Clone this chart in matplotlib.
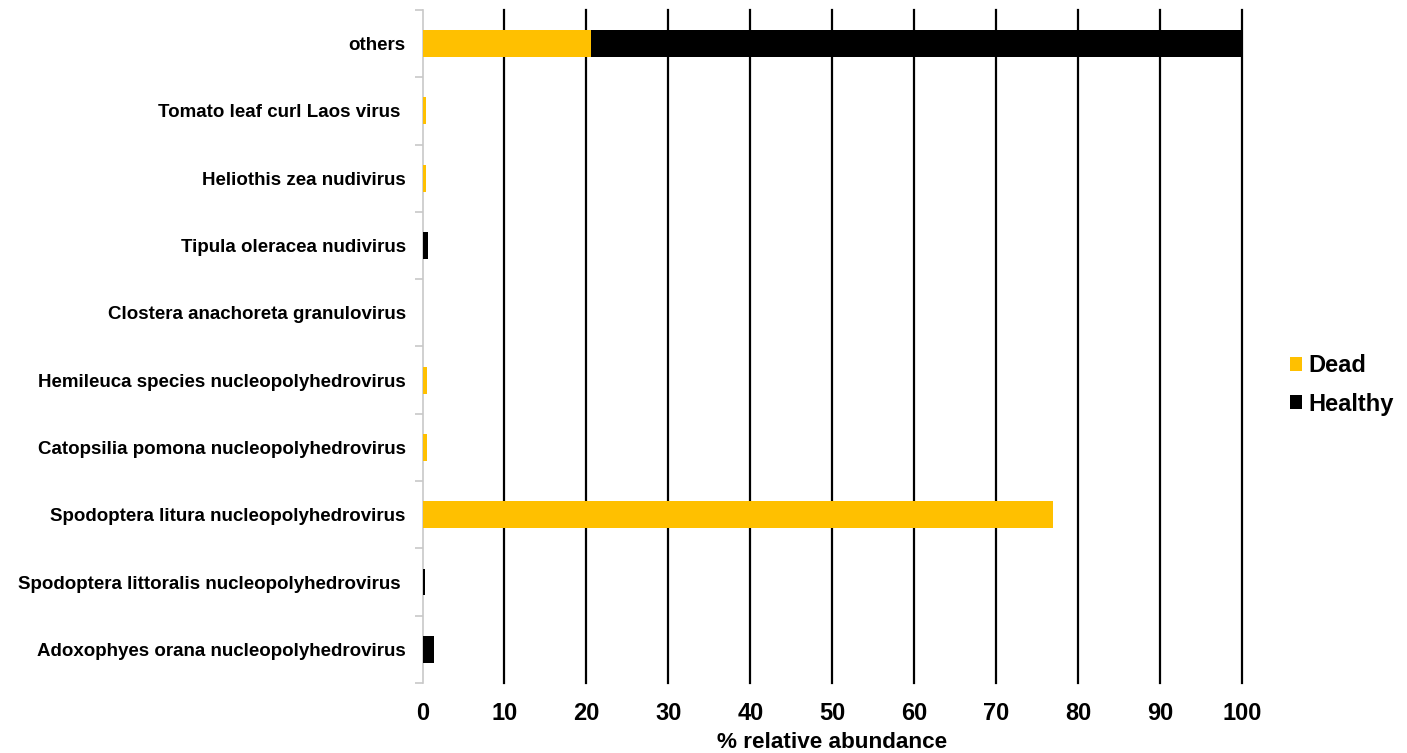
import matplotlib
matplotlib.use("Agg")
import matplotlib.pyplot as plt
import numpy as np

plt.rcParams["font.family"] = ["Liberation Sans", "DejaVu Sans"]
plt.rcParams["font.weight"] = "bold"

# categories listed bottom -> top
viruses = [
    "Adoxophyes orana nucleopolyhedrovirus",
    "Spodoptera littoralis nucleopolyhedrovirus ",
    "Spodoptera litura nucleopolyhedrovirus",
    "Catopsilia pomona nucleopolyhedrovirus",
    "Hemileuca species nucleopolyhedrovirus",
    "Clostera anachoreta granulovirus",
    "Tipula oleracea nudivirus",
    "Heliothis zea nudivirus",
    "Tomato leaf curl Laos virus ",
    "others",
]
dead = [0.0, 0.0, 77.0, 0.6, 0.6, 0.0, 0.0, 0.4, 0.4, 20.6]
healthy = [1.35, 0.3, 0.0, 0.0, 0.0, 0.0, 0.65, 0.0, 0.0, 79.4]
xticks = [0, 10, 20, 30, 40, 50, 60, 70, 80, 90, 100]

yellow = "#FFC000"

fig = plt.figure(figsize=(14.07, 7.53), dpi=100)
ax = fig.add_axes([0.3003, 0.093, 0.5824, 0.8937])

y = np.arange(len(viruses))
ax.barh(y, dead, height=0.4, color=yellow, label="Dead", zorder=3)
ax.barh(y, healthy, left=dead, height=0.4, color="black", label="Healthy", zorder=3)

ax.set_xlim(0, 100)
ax.set_ylim(-0.5, len(viruses) - 0.5)
ax.set_xticks(xticks)
ax.set_xticklabels([str(t) for t in xticks], fontsize=17, fontweight="bold")
ax.tick_params(axis="x", length=0, pad=14)
for t in xticks[1:]:
    ax.axvline(t, color="black", lw=1.6, zorder=1, clip_on=False)

ax.set_yticks(y)
ax.set_yticklabels(viruses, fontsize=13.5, fontweight="bold")
ax.set_yticks(np.arange(-0.5, len(viruses), 1), minor=True)
ax.tick_params(axis="y", which="major", length=0, pad=12)
ax.tick_params(axis="y", which="minor", length=6, color="#C8C8C8", width=1.2)

for s in ["top", "right", "bottom"]:
    ax.spines[s].set_visible(False)
ax.spines["left"].set_color("#C8C8C8")
ax.spines["left"].set_linewidth(1.2)

ax.set_xlabel("% relative abundance", fontsize=16.2, fontweight="bold", labelpad=5)

ax.legend(loc="center left", bbox_to_anchor=(1.033, 0.443), frameon=False,
          prop={"size": 17, "weight": "bold"}, handlelength=0.5, handleheight=0.5,
          handletextpad=0.25, labelspacing=0.65)

fig.savefig("out.png", dpi=100)
